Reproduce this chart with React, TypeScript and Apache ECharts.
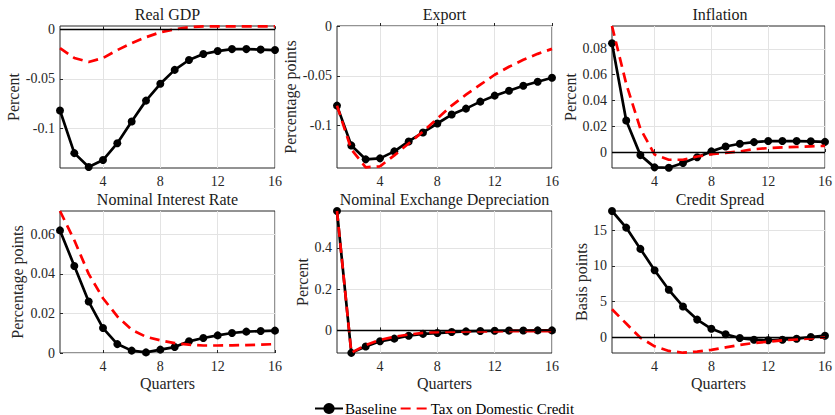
import React, { useEffect, useRef } from "react";
import * as echarts from "echarts";

const quarters = [1, 2, 3, 4, 5, 6, 7, 8, 9, 10, 11, 12, 13, 14, 15, 16];
const xTicks = [4, 8, 12, 16];

const titles = [
  "Real GDP",
  "Export",
  "Inflation",
  "Nominal Interest Rate",
  "Nominal Exchange Depreciation",
  "Credit Spread",
];
const yNames = ["Percent", "Percentage points", "Percent", "Percentage points", "Percent", "Basis points"];

const gdpBase = [-0.082, -0.125, -0.139, -0.132, -0.115, -0.093, -0.072, -0.055, -0.041, -0.031, -0.025, -0.022, -0.02, -0.02, -0.0205, -0.021];
const gdpTax = [-0.019, -0.029, -0.033, -0.029, -0.021, -0.014, -0.008, -0.003, 0.0, 0.002, 0.003, 0.003, 0.003, 0.003, 0.003, 0.003];

const exportBase = [-0.08, -0.12, -0.134, -0.133, -0.126, -0.116, -0.107, -0.098, -0.089, -0.083, -0.076, -0.07, -0.065, -0.06, -0.056, -0.052];
const exportTax = [-0.08, -0.124, -0.142, -0.141, -0.13, -0.118, -0.106, -0.093, -0.08, -0.069, -0.059, -0.049, -0.041, -0.034, -0.028, -0.023];

const inflBase = [0.0844, 0.0245, -0.0024, -0.0119, -0.0122, -0.0085, -0.004, 0.0005, 0.0043, 0.0064, 0.0077, 0.0085, 0.0085, 0.0085, 0.0083, 0.0079];
const inflTax = [0.0978, 0.053, 0.018, -0.002, -0.006, -0.006, -0.0035, -0.0017, -0.0007, 0.0005, 0.0022, 0.003, 0.0036, 0.004, 0.0044, 0.0048];

const rateBase = [0.062, 0.044, 0.026, 0.0126, 0.0045, 0.0012, 0.0003, 0.0017, 0.003, 0.0059, 0.0076, 0.0089, 0.0101, 0.0108, 0.0111, 0.0113];
const rateTax = [0.0718, 0.057, 0.04, 0.0277, 0.0185, 0.0118, 0.0082, 0.0064, 0.005, 0.0042, 0.0038, 0.0038, 0.0039, 0.004, 0.0042, 0.0045];

const exchBase = [0.579, -0.109, -0.078, -0.053, -0.04, -0.026, -0.017, -0.013, -0.008, -0.005, -0.003, -0.002, -0.001, -0.0005, 0, 0];
const exchTax = [0.579, -0.109, -0.071, -0.046, -0.031, -0.02, -0.012, -0.008, -0.0065, -0.0055, -0.005, -0.0045, -0.004, -0.004, -0.0035, -0.0035];

const creditBase = [17.7, 15.37, 12.38, 9.39, 6.64, 4.29, 2.45, 1.16, 0.4, -0.14, -0.37, -0.45, -0.37, -0.23, 0.0, 0.19];
const creditTax = [3.9, 1.9, -0.1, -1.3, -1.95, -2.2, -2.05, -1.8, -1.45, -1.1, -0.84, -0.65, -0.47, -0.33, -0.19, -0.05];

const baseSeries = [gdpBase, exportBase, inflBase, rateBase, exchBase, creditBase];
const taxSeries = [gdpTax, exportTax, inflTax, rateTax, exchTax, creditTax];

const yMins = [-0.14, -0.1427, -0.0124, 0, -0.1097, -2.24];
const yMaxs = [0.0033, 0, 0.0978, 0.0718, 0.579, 17.7];
const yTicks = [
  [-0.1, -0.05, 0],
  [-0.1, -0.05, 0],
  [0, 0.02, 0.04, 0.06, 0.08],
  [0, 0.02, 0.04, 0.06],
  [0, 0.2, 0.4],
  [0, 5, 10, 15],
];
const zeroLine = [true, false, true, false, true, true];

const FONT = "Liberation Serif";
const TEXT = "#262626";

const lefts = [60, 337, 612];
const widths = [215, 215, 216];
const tops = [26, 211];
const H = 142;
const nameGaps = [39, 37, 34, 35, 27, 23];

function buildOption() {
  const grid: any[] = [];
  const xAxis: any[] = [];
  const yAxis: any[] = [];
  const series: any[] = [];
  const graphic: any[] = [];
  for (let i = 0; i < 6; i++) {
    const col = i % 3;
    const row = Math.floor(i / 3);
    grid.push({
      left: lefts[col],
      top: tops[row],
      width: widths[col],
      height: H,
      show: true,
      borderColor: TEXT,
      borderWidth: 1,
      backgroundColor: "transparent",
      containLabel: false,
    });
    xAxis.push({
      type: "value",
      gridIndex: i,
      min: 1,
      max: 16,
      axisLine: { show: false },
      axisTick: { show: true, inside: true, length: 3, customValues: xTicks, lineStyle: { color: TEXT } },
      axisLabel: { customValues: xTicks, color: TEXT, fontFamily: FONT, fontSize: 14, margin: 6 },
      splitLine: { show: true, lineStyle: { color: "#e3e3e3", width: 1 } },
      name: row === 1 ? "Quarters" : "",
      nameLocation: "middle",
      nameGap: 22,
      nameTextStyle: { color: TEXT, fontFamily: FONT, fontSize: 16 },
    });
    yAxis.push({
      type: "value",
      gridIndex: i,
      min: yMins[i],
      max: yMaxs[i],
      axisLine: { show: false },
      axisTick: { show: true, inside: true, length: 3, customValues: yTicks[i], lineStyle: { color: TEXT } },
      axisLabel: { customValues: yTicks[i], color: TEXT, fontFamily: FONT, fontSize: 14, margin: 5 },
      splitLine: { show: true, lineStyle: { color: "#e3e3e3", width: 1 } },
      name: yNames[i],
      nameLocation: "middle",
      nameGap: nameGaps[i],
      nameTextStyle: { color: TEXT, fontFamily: FONT, fontSize: 16 },
    });
    series.push({
      name: "Baseline",
      type: "line",
      xAxisIndex: i,
      yAxisIndex: i,
      data: quarters.map((q, k) => [q, baseSeries[i][k]]),
      symbol: "circle",
      symbolSize: 8,
      itemStyle: { color: "#000" },
      lineStyle: { color: "#000", width: 2.7 },
      z: 3,
      markLine: zeroLine[i]
        ? {
            silent: true,
            symbol: ["none", "none"],
            label: { show: false },
            lineStyle: { color: "#000", width: 1.3, type: "solid" },
            data: [{ yAxis: 0 }],
          }
        : undefined,
    });
    series.push({
      name: "Tax on Domestic Credit",
      type: "line",
      xAxisIndex: i,
      yAxisIndex: i,
      data: quarters.map((q, k) => [q, taxSeries[i][k]]),
      symbol: "none",
      itemStyle: { color: "#ff0000" },
      lineStyle: { color: "#ff0000", width: 2.7, type: [10, 6] },
      z: 4,
    });
    graphic.push({
      type: "text",
      x: lefts[col] + widths[col] / 2,
      y: tops[row] - 12,
      style: {
        text: titles[i],
        align: "center",
        verticalAlign: "middle",
        fontFamily: FONT,
        fontSize: 16,
        fill: "#1a1a1a",
      },
    });
  }
  return {
    animation: false,
    backgroundColor: "#ffffff",
    grid,
    xAxis,
    yAxis,
    series,
    graphic,
    legend: {
      left: 314,
      top: 401,
      padding: 0,
      itemWidth: 28,
      itemHeight: 14,
      itemGap: 3,
      textStyle: { color: "#000", fontFamily: FONT, fontSize: 15, padding: [0, 0, 0, -3] },
      data: [
        { name: "Baseline" },
        {
          name: "Tax on Domestic Credit",
          itemStyle: { color: "transparent", borderColor: "transparent", borderWidth: 0 },
        },
      ],
    },
  };
}

export default function App() {
  const ref = useRef<HTMLDivElement>(null);
  useEffect(() => {
    if (!ref.current) return;
    const chart = echarts.init(ref.current, undefined, { renderer: "svg" });
    chart.setOption(buildOption() as any);
    return () => chart.dispose();
  }, []);
  return (
    <div
      ref={ref}
      style={{ position: "fixed", left: 0, top: 0, width: 835, height: 415, background: "#fff" }}
    />
  );
}
